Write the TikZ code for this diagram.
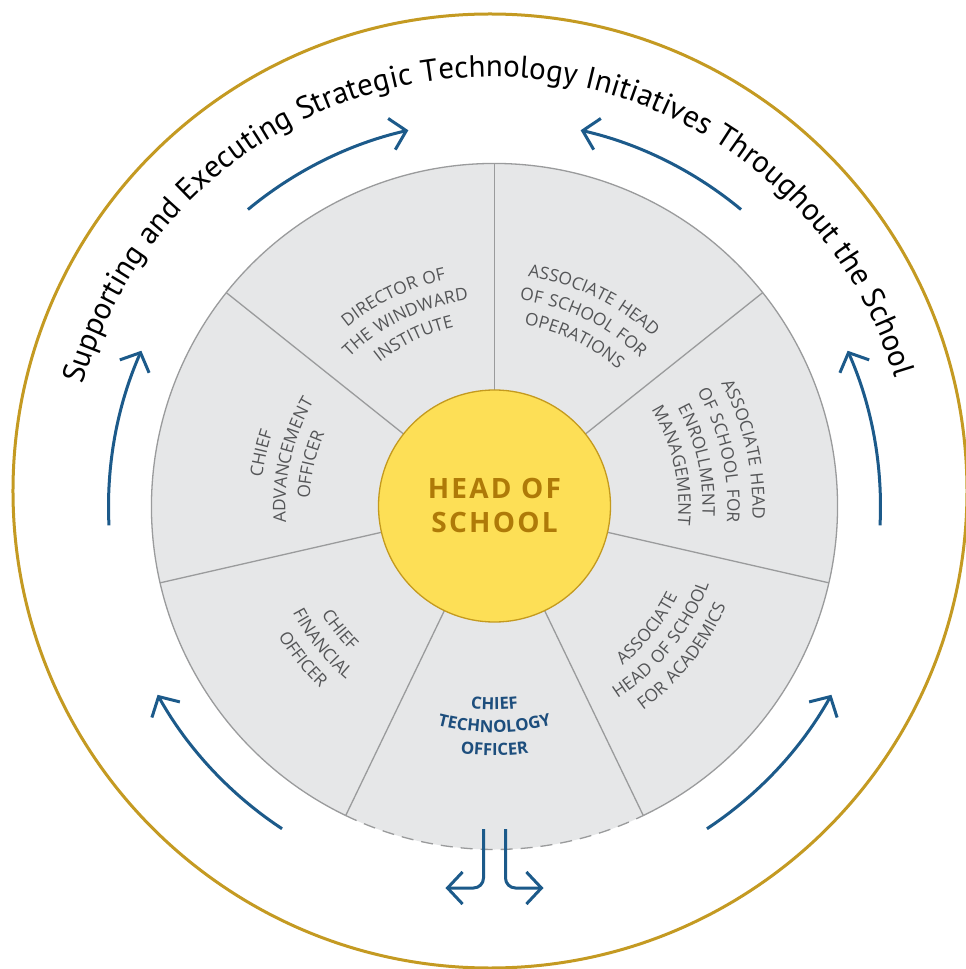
\documentclass[tikz,border=0pt]{standalone}
\usepackage{fontspec}
\setmainfont{Open Sans}
\newfontfamily\lblfont[LetterSpace=8]{Open Sans}
\newfontfamily\outerfont[LetterSpace=1.5]{PT Sans}
\usetikzlibrary{decorations.text,arrows.meta}
\definecolor{goldring}{HTML}{C49A22}
\definecolor{wedgefill}{HTML}{E6E7E8}
\definecolor{wline}{HTML}{9A9B9C}
\definecolor{lblgray}{HTML}{545557}
\definecolor{headfill}{HTML}{FDDF56}
\definecolor{headline}{HTML}{C49A1E}
\definecolor{headtxt}{HTML}{AF7A08}
\definecolor{arrowblue}{HTML}{1C5A8A}
\definecolor{ctoblue}{HTML}{1D4E7D}
\newcommand\lbl{\fontsize{17.3}{20}\selectfont\lblfont\color{lblgray}}
\newcommand\ctolbl{\fontsize{16.8}{20}\selectfont\lblfont\bfseries\color{ctoblue}}
\newcommand\cwline[4]{\path[decorate,decoration={text along path,text align=center,text={|#1|#4}}] ({#2+75}:#3) arc[start angle={#2+75},end angle={#2-75},radius=#3];}
\newcommand\ccwline[4]{\path[decorate,decoration={text along path,text align=center,text={|#1|#4}}] ({#2-75}:#3) arc[start angle={#2-75},end angle={#2+75},radius=#3];}
\tikzset{
  flow/.style={arrowblue, line width=3pt, -{Straight Barb[length=15pt,width=32pt]}},
  divider/.style={wline, line width=1.3pt},
}
\begin{document}
\begin{tikzpicture}[x=1pt,y=1pt]
\useasboundingbox (-494.5,-462.5) rectangle (471.5,506.5);
\fill[white] (-494.5,-462.5) rectangle (471.5,506.5);
% outer gold ring
\draw[goldring, line width=3pt] (-4.5,15.5) circle[radius=477];
% grey disk
\fill[wedgefill] (0,0) circle[radius=343];
\draw[divider] (295.71:343) arc[start angle=-64.29, end angle=244.29, radius=343];
\draw[divider, dash pattern=on 12pt off 8pt] (244.29:343) arc[start angle=244.29, end angle=295.71, radius=343];
\foreach \a in {90,141.43,192.86,244.29,295.71,347.14,38.57}
  \draw[divider] (\a:116) -- (\a:343);
% head of school
\node[circle, draw=headline, fill=headfill, line width=1.3pt, minimum size=232pt, inner sep=0pt] (head) at (0,0.5) {};
\node[text=headtxt, font=\fontsize{28}{34}\selectfont\lblfont\bfseries, align=center] (headlbl) at (0,1.5) {HEAD OF\\SCHOOL};
% wedge labels
\cwline{\lbl}{115.71}{232}{DIRECTOR OF}
\cwline{\lbl}{115.71}{208}{THE WINDWARD}
\cwline{\lbl}{115.71}{184}{INSTITUTE}
\cwline{\lbl}{64.29}{232}{ASSOCIATE HEAD}
\cwline{\lbl}{64.29}{208}{OF SCHOOL FOR}
\cwline{\lbl}{64.29}{184}{OPERATIONS}
\cwline{\lbl}{12.86}{258}{ASSOCIATE HEAD}
\cwline{\lbl}{12.86}{233}{OF SCHOOL FOR}
\cwline{\lbl}{12.86}{208}{ENROLLMENT}
\cwline{\lbl}{12.86}{184}{MANAGEMENT}
\cwline{\lbl}{167.14}{234}{CHIEF}
\cwline{\lbl}{167.14}{209}{ADVANCEMENT}
\cwline{\lbl}{167.14}{185}{OFFICER}
\ccwline{\lbl}{218.57}{204}{CHIEF}
\ccwline{\lbl}{218.57}{228}{FINANCIAL}
\ccwline{\lbl}{218.57}{252}{OFFICER}
\ccwline{\ctolbl}{270}{203}{CHIEF}
\ccwline{\ctolbl}{270}{226}{TECHNOLOGY}
\ccwline{\ctolbl}{270}{249}{OFFICER}
\ccwline{\lbl}{321.43}{204}{ASSOCIATE}
\ccwline{\lbl}{321.43}{228}{HEAD OF SCHOOL}
\ccwline{\lbl}{321.43}{252}{FOR ACADEMICS}
% circulating arrows
\draw[flow] (236.6:386) arc[start angle=236.6, end angle=209.2, radius=386];
\draw[flow] (182.8:386) arc[start angle=182.8, end angle=156.2, radius=386];
\draw[flow] (129.7:386) arc[start angle=129.7, end angle=102.9, radius=386];
\draw[flow] (-56.6:386) arc[start angle=-56.6, end angle=-29.2, radius=386];
\draw[flow] (-2.8:386) arc[start angle=-2.8, end angle=23.8, radius=386];
\draw[flow] (50.3:386) arc[start angle=50.3, end angle=77.1, radius=386];
% split arrow below CTO
\coordinate (ls) at (-11,-322.5);
\coordinate (le) at (-49,-381.5);
\coordinate (rs) at (11,-322.5);
\coordinate (re) at (49,-381.5);
\draw[flow, rounded corners=10pt] (ls) |- (le);
\draw[flow, rounded corners=10pt] (rs) |- (re);
% outer text
\begin{scope}[shift={(-4.5,6.5)}]
\path[decorate, decoration={text along path, text align=center, text={|\outerfont\fontsize{31}{32}\selectfont|Supporting and Executing Strategic Technology Initiatives Throughout the School}}] (200:423) arc[start angle=200, end angle=-19, radius=423];
\end{scope}
\end{tikzpicture}
\end{document}
